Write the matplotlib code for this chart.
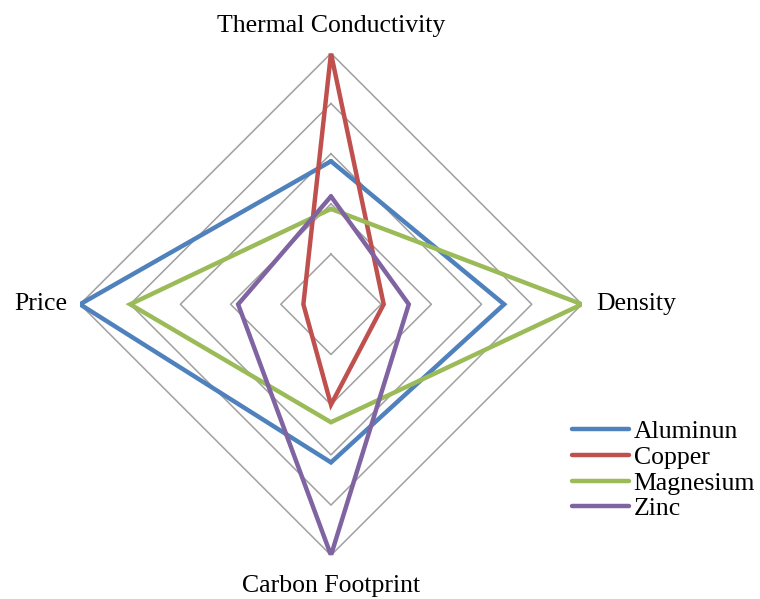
import matplotlib.pyplot as plt
import numpy as np

plt.rcParams['font.family'] = ['Liberation Serif', 'DejaVu Serif']

categories = ['Thermal Conductivity', 'Density', 'Carbon Footprint', 'Price']
series_names = ['Aluminun', 'Copper', 'Magnesium', 'Zinc']
aluminum = [0.57, 0.69, 0.63, 1.00]
copper = [1.00, 0.21, 0.40, 0.11]
magnesium = [0.38, 1.00, 0.47, 0.80]
zinc = [0.43, 0.31, 1.00, 0.37]
rings = [0.2, 0.4, 0.6, 0.8, 1.0]
colors = ['#4F81BD', '#C0504D', '#9BBB59', '#8064A2']

angles = np.linspace(0, 2 * np.pi, len(categories), endpoint=False)
closed = np.append(angles, angles[0])

fig = plt.figure(figsize=(7.6, 5.99), dpi=100)
ax = fig.add_axes([0.105, 0.073, 0.661, 0.838], projection='polar')
ax.set_theta_offset(np.pi / 2)
ax.set_theta_direction(-1)
ax.set_ylim(0, 1)
ax.grid(False)
ax.spines['polar'].set_visible(False)
ax.set_xticks([])
ax.set_yticks([])

for r in rings:
    ax.plot(closed, [r] * len(closed), color='#A0A0A0', lw=1.1, zorder=1)

for name, vals, c in zip(series_names, [aluminum, copper, magnesium, zinc], colors):
    ax.plot(closed, vals + vals[:1], color=c, lw=3.2, label=name,
            solid_joinstyle='miter', solid_capstyle='round', zorder=3)

fs = 18.5
offsets = [(0, 12), (10, 0), (0, -14), (-9, 0)]
aligns = [('center', 'bottom'), ('left', 'center'), ('center', 'top'), ('right', 'center')]
for ang, lab, off, (ha, va) in zip(angles, categories, offsets, aligns):
    ax.annotate(lab, xy=(ang, 1.0), xytext=off, textcoords='offset points',
                ha=ha, va=va, fontsize=fs)

fig.legend(loc='upper left', bbox_to_anchor=(572 / 760, 1 - 420 / 599),
           frameon=False, fontsize=fs, borderpad=0, borderaxespad=0,
           handlelength=2.2, handletextpad=0.2, labelspacing=0.11)

fig.savefig('out.png', dpi=100)
